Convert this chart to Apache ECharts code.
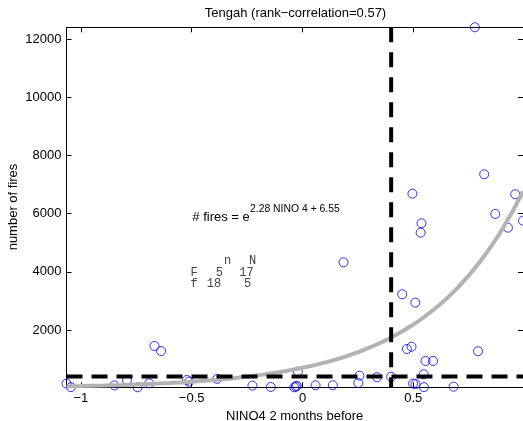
<!DOCTYPE html>
<html>
<head>
<meta charset="utf-8">
<script src="https://cdn.jsdelivr.net/npm/echarts@6/dist/echarts.min.js"></script>
<style>
html,body{margin:0;padding:0;background:#fff;}
#c{width:523px;height:421px;}
</style>
</head>
<body>
<div id="c"></div>
<script>
// NINO4 index 2 months before (x) and number of fires (y)
var nino = [-1.065,-1.045,-0.849,-0.792,-0.744,-0.692,-0.668,-0.638,-0.522,-0.512,
  -0.385,-0.226,-0.143,-0.037,-0.030,-0.026,-0.021,0.059,0.137,0.185,
  0.252,0.257,0.336,0.400,0.450,0.471,0.492,0.496,0.499,0.510,
  0.509,0.533,0.537,0.547,0.548,0.555,0.589,0.682,0.778,0.792,
  0.820,0.870,0.927,0.960,0.995];
var fires = [160,35,95,270,30,165,1450,1275,282,225,
  320,86,41,30,55,80,567,100,100,4326,
  179,430,375,395,3227,1347,1426,6684,160,140,
  2938,5344,5667,478,35,935,935,52,12400,1268,
  7350,5986,5515,6663,5756];
// fitted curve: # fires = e^(2.28 NINO4 + 6.55)
var fitX = [-1.065,-1.0,-0.9,-0.8,-0.7,-0.6,-0.5,-0.4,-0.3,-0.2,-0.1,0,0.1,0.2,0.3,0.4,0.5,0.6,0.7,0.8,0.9,0.995];
var fitY = [61.7,71.5,89.8,112.9,141.8,178.1,223.7,280.9,352.9,443.3,556.8,699.2,878.3,1103.3,1385.8,1740.7,2186.5,2746.5,3449.9,4333.5,5443.4,6763];
// thresholds
var ninoThreshold = [0.4];
var fireThreshold = [400];
// contingency table counts
var tableRows = ['F','f'];
var tableCols = ['n','N'];
var tableCounts = [[5,17],[18,5]];
// axis ticks
var xTicks = [-1,-0.5,0,0.5];
var xTickLabels = ['\u22121','\u22120.5','0','0.5'];
var yTicks = [2000,4000,6000,8000,10000,12000];
var yTickLabels = ['2000','4000','6000','8000','10000','12000'];
var titleText = 'Tengah (rank\u2212correlation=0.57)';
var xName = 'NINO4 2 months before';
var yName = 'number of fires';

var XMIN = -1.065, XMAX = 0.995, YMIN = 30, YMAX = 12400;
var FONT = 'Liberation Sans, Arial, Helvetica, sans-serif';

function lab(ticks, labels){
  return function(v){
    for (var i=0;i<ticks.length;i++){ if (Math.abs(ticks[i]-v)<1e-9) return labels[i]; }
    return '';
  };
}
function axisBase(){
  return {
    type:'value',
    axisLine:{show:true,onZero:false,lineStyle:{color:'#000',width:1}},
    splitLine:{show:false},
    axisTick:{show:true,inside:true,length:5,lineStyle:{color:'#000',width:1}},
  };
}
var xb = axisBase(); xb.min=XMIN; xb.max=XMAX; xb.position='bottom';
xb.axisTick.customValues = xTicks;
xb.axisLabel = {show:true,customValues:xTicks,formatter:lab(xTicks,xTickLabels),color:'#000',fontSize:13,fontFamily:FONT,margin:5};
var xt = axisBase(); xt.min=XMIN; xt.max=XMAX; xt.position='top';
xt.axisTick.customValues = xTicks; xt.axisLabel = {show:false};
var yl = axisBase(); yl.min=YMIN; yl.max=YMAX; yl.position='left';
yl.axisTick.customValues = yTicks;
yl.axisLabel = {show:true,customValues:yTicks,formatter:lab(yTicks,yTickLabels),color:'#000',fontSize:13,fontFamily:FONT,margin:5};
var yr = axisBase(); yr.min=YMIN; yr.max=YMAX; yr.position='right';
yr.axisTick.customValues = yTicks; yr.axisLabel = {show:false};

var pts = nino.map(function(x,i){return [x,fires[i]];});
var fit = fitX.map(function(x,i){return [x,fitY[i]];});

var graphics = [
  {type:'text',x:295.5,y:13,style:{text:titleText,font:'13px '+FONT,fill:'#000',textAlign:'center',textVerticalAlign:'middle'}},
  {type:'text',x:294.7,y:416,style:{text:xName,font:'13px '+FONT,fill:'#000',textAlign:'center',textVerticalAlign:'middle'}},
  {type:'text',x:13,y:207,rotation:Math.PI/2,style:{text:yName,font:'13px '+FONT,fill:'#000',textAlign:'center',textVerticalAlign:'middle'}},
  {type:'text',x:192.3,y:217.4,style:{text:'# fires = e',font:'13px '+FONT,fill:'#000',textAlign:'left',textVerticalAlign:'middle'}},
  {type:'text',x:250,y:209,style:{text:'2.28 NINO 4 + 6.55',font:'10.4px '+FONT,fill:'#000',textAlign:'left',textVerticalAlign:'middle'}}
];
var MONO = '12px Liberation Mono, Courier New, monospace';
var colX = [[219.3,246.5],[214,247.7]];
var hdrX = [227.7,252.7];
var rowY = [272.5,283.5];
tableCols.forEach(function(c,j){
  graphics.push({type:'text',x:hdrX[j],y:261.2,style:{text:c,font:MONO,fill:'#444',textAlign:'center',textVerticalAlign:'middle'}});
});
tableRows.forEach(function(r,i){
  graphics.push({type:'text',x:194,y:rowY[i],style:{text:r,font:MONO,fill:'#444',textAlign:'center',textVerticalAlign:'middle'}});
  tableCounts[i].forEach(function(v,j){
    graphics.push({type:'text',x:colX[i][j],y:rowY[i],style:{text:String(v),font:MONO,fill:'#444',textAlign:'center',textVerticalAlign:'middle'}});
  });
});

var chart = echarts.init(document.getElementById('c'), null, {renderer:'canvas'});
chart.setOption({
  animation:false,
  backgroundColor:'#fff',
  grid:{left:66.5,right:0,top:27.3,height:360,containLabel:false},
  xAxis:[xb,xt],
  yAxis:[yl,yr],
  graphic:graphics,
  series:[
    {type:'scatter',xAxisIndex:0,yAxisIndex:0,data:pts,symbol:'circle',symbolSize:9,clip:false,
     itemStyle:{color:'rgba(0,0,0,0)',borderColor:'#0000ff',borderWidth:1},z:2},
    {type:'line',data:fit,smooth:true,showSymbol:false,lineStyle:{color:'#b3b3b3',width:4},z:3},
    {type:'line',data:[[ninoThreshold[0],YMAX],[ninoThreshold[0],YMIN]],showSymbol:false,
     lineStyle:{color:'#000',width:4,type:[15,10]},z:4},
    {type:'line',data:[[XMIN,fireThreshold[0]],[XMAX,fireThreshold[0]]],showSymbol:false,
     lineStyle:{color:'#000',width:4,type:[16,9]},z:4}
  ]
});
</script>
</body>
</html>
